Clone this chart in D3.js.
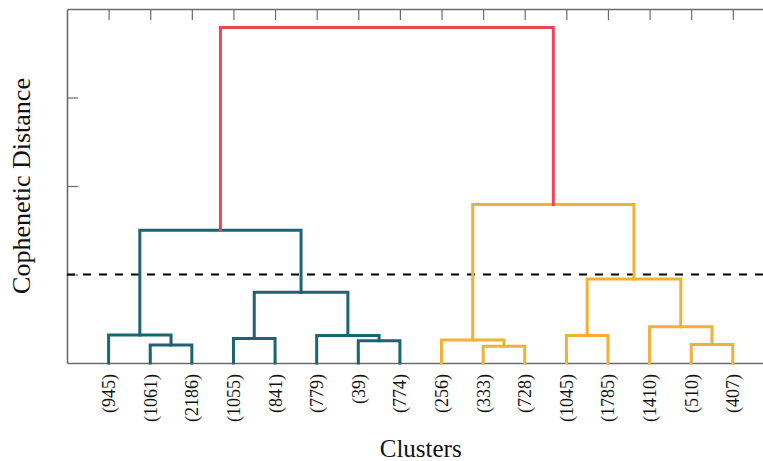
<!DOCTYPE html>
<html>
<head>
<meta charset="utf-8">
<script src="https://cdn.jsdelivr.net/npm/d3@7"></script>
<style>
  html, body { margin: 0; padding: 0; background: #fff; }
  svg { display: block; }
  text { font-family: "Liberation Serif", "Times New Roman", serif; fill: #111; }
</style>
</head>
<body>
<svg id="chart" width="763" height="461"></svg>
<script>
// Leaf labels (cluster sizes), left to right
const leafLabels = ["(945)", "(1061)", "(2186)", "(1055)", "(841)", "(779)", "(39)", "(774)",
                    "(256)", "(333)", "(728)", "(1045)", "(1785)", "(1410)", "(510)", "(407)"];

// Linkage: each merge joins two nodes (leaves 0..15, merges numbered from 16 on)
const mergeLeft   = [1, 0, 3, 6, 5, 18, 17, 9, 8, 11, 14, 13, 25, 24, 22];
const mergeRight  = [2, 16, 4, 7, 19, 20, 21, 10, 23, 12, 15, 26, 27, 28, 29];
const mergeHeight = [0.203, 0.316, 0.278, 0.251, 0.312, 0.80, 1.50,
                     0.19, 0.26, 0.31, 0.21, 0.41, 0.95, 1.79, 3.79];
const mergeGroup  = ["teal", "teal", "teal", "teal", "teal", "teal", "teal",
                     "gold", "gold", "gold", "gold", "gold", "gold", "gold", "root"];

const cutHeight = 1.0;
const yTicks = [1, 2, 3];

const palette = { teal: "#1b6470", gold: "#f2b134", root: "#e84855" };

const svg = d3.select("#chart");
const plotLeft = 67, plotTop = 9, plotBottom = 363, plotRight = 774.4;

const x = d3.scaleLinear().domain([-1, leafLabels.length]).range([plotLeft, plotRight]);
const y = d3.scaleLinear().domain([0, 4]).range([plotBottom, plotTop]);

const leafIdx = d3.range(leafLabels.length);
const axisColor = "#6b6b6b";

// Axes (box frame with inward ticks, no numeric labels)
const gLeft = svg.append("g").attr("transform", `translate(${plotLeft},0)`)
  .call(d3.axisLeft(y).tickValues(yTicks).tickSize(-11).tickSizeOuter(0).tickFormat(""));
const gTop = svg.append("g").attr("transform", `translate(0,${plotTop})`)
  .call(d3.axisTop(x).tickValues(leafIdx).tickSize(-11).tickSizeOuter(0).tickFormat(""));
const gRight = svg.append("g").attr("transform", `translate(${plotRight},0)`)
  .call(d3.axisRight(y).tickValues(yTicks).tickSize(-11).tickSizeOuter(0).tickFormat(""));
const gBottom = svg.append("g").attr("transform", `translate(0,${plotBottom})`)
  .call(d3.axisBottom(x).tickValues(leafIdx).tickSize(-11).tickSizeOuter(0)
        .tickFormat(i => leafLabels[i]));

[gLeft, gTop, gRight, gBottom].forEach(g => {
  g.select(".domain").attr("stroke", axisColor).attr("stroke-width", 1.6);
  g.selectAll(".tick line").attr("stroke", axisColor).attr("stroke-width", 1.2);
});

gBottom.attr("font-size", null).attr("font-family", null);
gBottom.selectAll(".tick text")
  .attr("transform", "rotate(-90)")
  .attr("x", -11)
  .attr("y", 0)
  .attr("dy", "0.33em")
  .style("text-anchor", "end")
  .style("font-family", "'Liberation Serif', serif")
  .style("font-size", "18px")
  .attr("fill", "#111");

// Threshold line
svg.append("line")
  .attr("x1", plotLeft).attr("x2", 763)
  .attr("y1", y(cutHeight)).attr("y2", y(cutHeight))
  .attr("stroke", "#000").attr("stroke-width", 2)
  .attr("stroke-dasharray", "8,8");

// Dendrogram: compute node positions from the linkage
const n = leafLabels.length;
const nodeX = leafIdx.map(i => x(i));
const nodeH = leafIdx.map(() => 0);
const links = [];
mergeLeft.forEach((l, k) => {
  const r = mergeRight[k];
  const h = mergeHeight[k];
  nodeX[n + k] = (nodeX[l] + nodeX[r]) / 2;
  nodeH[n + k] = h;
  links.push({ l, r, h, group: mergeGroup[k] });
});

svg.append("g").selectAll("path")
  .data(links)
  .join("path")
  .attr("d", d => `M${nodeX[d.l]},${y(nodeH[d.l])}V${y(d.h)}H${nodeX[d.r]}V${y(nodeH[d.r])}`)
  .attr("fill", "none")
  .attr("stroke", d => palette[d.group])
  .attr("stroke-width", 3)
  .attr("stroke-linejoin", "miter")
  .attr("stroke-linecap", "square");

// Axis titles
svg.append("text")
  .attr("x", (plotLeft + plotRight) / 2).attr("y", 457)
  .attr("text-anchor", "middle")
  .style("font-size", "25px")
  .text("Clusters");

svg.append("text")
  .attr("transform", `translate(30,${(plotTop + plotBottom) / 2}) rotate(-90)`)
  .attr("text-anchor", "middle")
  .style("font-size", "26px")
  .text("Cophenetic Distance");
</script>
</body>
</html>
